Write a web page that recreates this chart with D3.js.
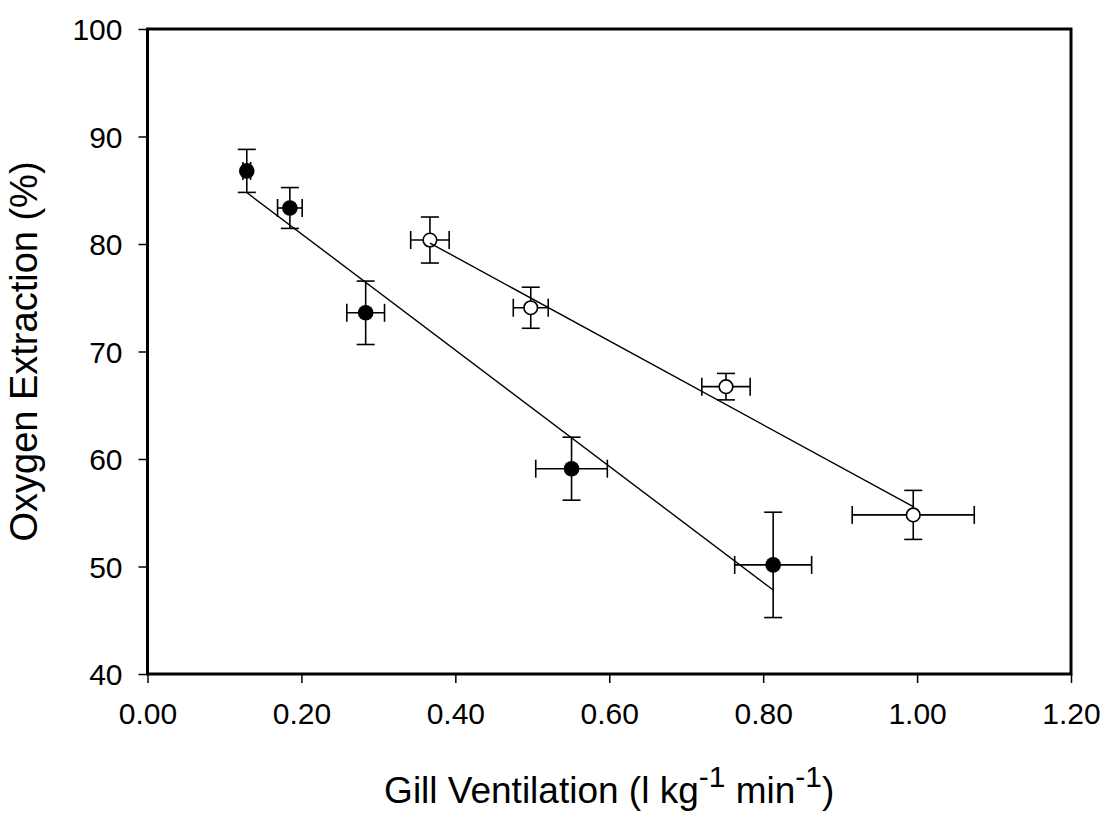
<!DOCTYPE html>
<html>
<head>
<meta charset="utf-8">
<script src="https://cdn.jsdelivr.net/npm/d3@7"></script>
<style>
  body { margin: 0; background: #fff; }
  svg text { font-family: "Liberation Sans", Arial, sans-serif; fill: #000; }
</style>
</head>
<body>
<div id="chart"></div>
<script>
// data
var filledX    = [0.129, 0.185, 0.2835, 0.551, 0.813];
var filledY    = [86.8, 83.35, 73.6, 59.1, 50.15];
var filledXErr = [0.005, 0.016, 0.0245, 0.0465, 0.050];
var filledYErr = [2.0, 1.9, 2.95, 2.93, 4.9];

var openX    = [0.367, 0.498, 0.7517, 0.995];
var openY    = [80.37, 74.07, 66.73, 54.8];
var openXErr = [0.025, 0.0227, 0.0314, 0.0793];
var openYErr = [2.14, 1.91, 1.23, 2.28];

// linear fits [slope, intercept]
var filledFit = [-54.06, 91.76];
var openFit   = [-39.05, 94.42];

var xTicks = [0, 0.2, 0.4, 0.6, 0.8, 1.0, 1.2];
var yTicks = [40, 50, 60, 70, 80, 90, 100];

// layout
var W = 1105, H = 817;
var plotLeft = 147.5, plotRight = 1071, plotTop = 29, plotBottom = 674;

var svg = d3.select("#chart").append("svg")
  .attr("width", W)
  .attr("height", H);

var x = d3.scaleLinear().domain([0, 1.2]).range([plotLeft, plotRight]);
var y = d3.scaleLinear().domain([40, 100]).range([plotBottom, plotTop]);

// axes (ticks outward on left/bottom only)
var xAxis = svg.append("g")
  .attr("transform", "translate(0," + plotBottom + ")")
  .call(d3.axisBottom(x).tickValues(xTicks).tickSize(9).tickPadding(20).tickFormat(d3.format(".2f")));
var yAxis = svg.append("g")
  .attr("transform", "translate(" + plotLeft + ",0)")
  .call(d3.axisLeft(y).tickValues(yTicks).tickSize(9).tickPadding(16).tickFormat(d3.format("d")));

[xAxis, yAxis].forEach(function(g) {
  g.select(".domain").remove();
  g.selectAll("line").attr("stroke", "#000").attr("stroke-width", 1.5);
  g.selectAll("text").style("font-size", "30px").attr("fill", "#000");
});
yAxis.selectAll("text").attr("dy", "0.36em");

// frame
svg.append("rect")
  .attr("x", plotLeft).attr("y", plotTop)
  .attr("width", plotRight - plotLeft).attr("height", plotBottom - plotTop)
  .attr("fill", "none")
  .attr("stroke", "#000")
  .attr("stroke-width", 3);

// helper to build records for a series
function rows(xs, ys, xe, ye) {
  return xs.map(function(v, i) { return { x: v, y: ys[i], xe: xe[i], ye: ye[i] }; });
}
var filled = rows(filledX, filledY, filledXErr, filledYErr);
var open = rows(openX, openY, openXErr, openYErr);

// error bars
var cap = 9;
function drawErrors(data) {
  var g = svg.append("g").attr("stroke", "#000").attr("stroke-width", 1.6).attr("fill", "none");
  data.forEach(function(d) {
    var cx = x(d.x), cy = y(d.y);
    var y1 = y(d.y + d.ye), y2 = y(d.y - d.ye);
    var x1 = x(d.x - d.xe), x2 = x(d.x + d.xe);
    g.append("line").attr("x1", cx).attr("x2", cx).attr("y1", y1).attr("y2", y2);
    g.append("line").attr("x1", cx - cap).attr("x2", cx + cap).attr("y1", y1).attr("y2", y1);
    g.append("line").attr("x1", cx - cap).attr("x2", cx + cap).attr("y1", y2).attr("y2", y2);
    g.append("line").attr("x1", x1).attr("x2", x2).attr("y1", cy).attr("y2", cy);
    g.append("line").attr("x1", x1).attr("x2", x1).attr("y1", cy - cap).attr("y2", cy + cap);
    g.append("line").attr("x1", x2).attr("x2", x2).attr("y1", cy - cap).attr("y2", cy + cap);
  });
}
drawErrors(filled);
drawErrors(open);

// markers
svg.selectAll(".filledPt")
  .data(filled)
  .enter()
  .append("circle")
  .attr("cx", function(d) { return x(d.x); })
  .attr("cy", function(d) { return y(d.y); })
  .attr("r", 7.8)
  .attr("fill", "#000");

svg.selectAll(".openPt")
  .data(open)
  .enter()
  .append("circle")
  .attr("cx", function(d) { return x(d.x); })
  .attr("cy", function(d) { return y(d.y); })
  .attr("r", 6.8)
  .attr("fill", "#fff")
  .attr("stroke", "#000")
  .attr("stroke-width", 1.6);

// regression lines across the range of each series
function fitLine(xs, fit) {
  var x0 = d3.min(xs), x1 = d3.max(xs);
  svg.append("line")
    .attr("x1", x(x0)).attr("y1", y(fit[0] * x0 + fit[1]))
    .attr("x2", x(x1)).attr("y2", y(fit[0] * x1 + fit[1]))
    .attr("stroke", "#000")
    .attr("stroke-width", 1.4);
}
fitLine(filledX, filledFit);
fitLine(openX, openFit);

// axis titles
var xt = svg.append("text")
  .attr("x", (plotLeft + plotRight) / 2)
  .attr("y", 803)
  .attr("text-anchor", "middle")
  .style("font-size", "37px");
xt.append("tspan").text("Gill Ventilation (l kg");
xt.append("tspan").attr("dy", -16).style("font-size", "30px").text("-1");
xt.append("tspan").attr("dy", 16).text(" min");
xt.append("tspan").attr("dy", -16).style("font-size", "30px").text("-1");
xt.append("tspan").attr("dy", 16).text(")");

svg.append("text")
  .attr("transform", "translate(37," + (plotTop + plotBottom) / 2 + ") rotate(-90)")
  .attr("text-anchor", "middle")
  .style("font-size", "38px")
  .text("Oxygen Extraction (%)");
</script>
</body>
</html>
